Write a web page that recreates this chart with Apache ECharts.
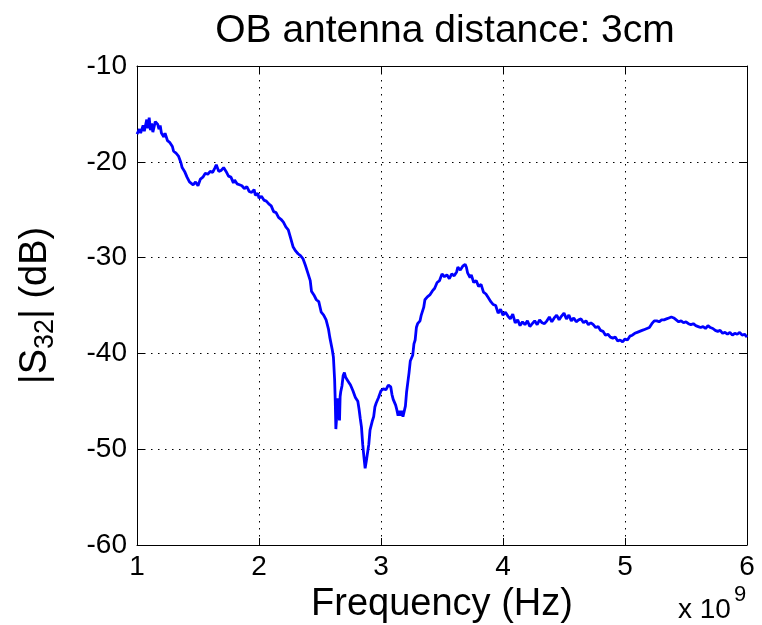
<!DOCTYPE html>
<html>
<head>
<meta charset="utf-8">
<script src="https://cdn.jsdelivr.net/npm/echarts@6/dist/echarts.min.js"></script>
<style>html,body{margin:0;padding:0;background:#fff;}#c{width:762px;height:625px;}</style>
</head>
<body>
<div id="c"></div>
<script>
const titleText = 'OB antenna distance: 3cm';
const xTicks = [1, 2, 3, 4, 5, 6];
const yTicks = [-60, -50, -40, -30, -20, -10];
const freqGHz = [
1.00,1.02,1.03,1.05,1.06,1.08,1.09,1.10,1.11,1.12,1.13,1.15,1.17,1.18,1.19,1.20,1.22,1.23,1.25,1.27,1.29,1.30,1.32,1.34,1.36,1.37,1.39,1.41,1.43,1.44,1.46,1.48,1.50,1.52,1.54,1.56,1.58,1.60,1.62,1.64,1.65,1.67,1.69,1.71,1.73,1.75,1.77,1.79,1.80,1.82,1.84,1.86,1.88,1.90,1.92,1.94,1.96,1.97,1.99,2.00,
2.02,2.04,2.06,2.08,2.10,2.12,2.14,2.16,2.18,2.20,2.22,2.24,2.26,2.28,2.30,2.32,2.34,2.36,2.38,2.40,2.42,2.43,2.45,2.47,2.49,2.51,2.53,2.55,2.57,2.58,2.60,2.61,2.62,2.625,2.63,2.64,2.645,2.65,2.66,2.665,2.67,2.68,2.69,2.70,2.71,2.72,2.73,2.75,2.77,2.79,2.81,2.82,2.83,2.84,2.85,2.86,2.87,2.88,2.89,2.90,2.91,2.92,2.93,2.94,2.95,2.96,2.98,
3.00,3.02,3.04,3.06,3.07,3.08,3.09,3.10,3.12,3.13,3.14,3.15,3.16,3.17,3.18,3.19,3.20,3.21,3.22,3.23,3.24,3.25,3.26,3.27,3.28,3.29,3.30,3.32,3.33,3.34,3.35,3.36,3.38,3.40,3.42,3.44,3.46,3.48,3.50,3.52,3.54,3.56,3.58,3.60,3.62,3.63,3.65,3.67,3.69,3.70,3.71,3.73,3.74,3.76,3.78,3.80,3.82,3.84,3.86,3.88,3.90,3.92,3.94,3.96,3.98,
4.00,4.02,4.04,4.06,4.08,4.10,4.12,4.14,4.16,4.18,4.20,4.22,4.24,4.26,4.28,4.30,4.32,4.34,4.36,4.38,4.40,4.42,4.44,4.46,4.48,4.50,4.52,4.54,4.56,4.58,4.60,4.62,4.64,4.66,4.68,4.70,4.72,4.74,4.76,4.78,4.80,4.82,4.84,4.86,4.88,4.90,4.92,4.94,4.96,4.98,
5.00,5.02,5.04,5.06,5.08,5.10,5.12,5.14,5.16,5.18,5.20,5.22,5.24,5.26,5.28,5.30,5.32,5.34,5.36,5.38,5.40,5.42,5.44,5.46,5.48,5.50,5.52,5.54,5.56,5.58,5.60,5.62,5.64,5.66,5.68,5.70,5.72,5.74,5.76,5.78,5.80,5.82,5.84,5.86,5.88,5.90,5.92,5.94,5.96,5.98,6.00
];
const s32dB = [
-17.1,-16.6,-17.0,-16.2,-16.8,-15.6,-16.5,-15.4,-16.7,-16.0,-16.9,-15.8,-16.1,-16.6,-16.2,-17.0,-17.4,-17.0,-17.8,-18.0,-18.4,-18.9,-19.1,-19.4,-20.1,-20.6,-21.0,-21.6,-22.1,-21.9,-22.4,-22.1,-22.5,-21.8,-21.6,-21.2,-21.3,-21.0,-21.1,-20.6,-20.3,-21.0,-20.9,-20.6,-21.0,-21.5,-21.6,-22.2,-21.9,-22.3,-22.4,-22.5,-22.8,-22.6,-23.1,-23.2,-22.9,-23.5,-23.3,-23.8,
-23.6,-24.0,-24.1,-24.4,-24.6,-25.2,-25.3,-25.8,-26.0,-26.3,-26.8,-27.1,-28.0,-28.9,-29.3,-29.6,-29.8,-30.1,-30.8,-31.6,-32.4,-33.5,-33.9,-34.4,-34.6,-35.7,-36.0,-36.5,-37.5,-38.3,-39.6,-40.4,-42.8,-45.0,-47.9,-46.0,-44.7,-45.5,-47.0,-44.5,-44.0,-43.4,-42.3,-42.0,-42.5,-42.4,-42.9,-43.3,-43.9,-44.6,-45.0,-45.8,-46.8,-47.7,-49.5,-50.8,-52.0,-51.2,-51.0,-49.5,-48.0,-47.8,-47.0,-46.6,-45.6,-45.2,-44.6,
-43.9,-43.7,-43.8,-43.3,-43.1,-43.5,-44.3,-44.8,-45.4,-45.9,-46.5,-46.0,-46.5,-46.0,-46.6,-46.4,-45.5,-44.0,-43.0,-42.0,-40.8,-40.6,-40.2,-39.0,-38.6,-37.3,-36.9,-36.6,-36.0,-35.8,-35.2,-34.4,-34.1,-33.9,-33.5,-33.2,-32.6,-32.4,-31.7,-32.0,-31.8,-32.2,-31.7,-31.9,-31.5,-31.0,-31.3,-30.9,-30.7,-31.0,-31.6,-32.1,-31.8,-32.6,-32.4,-33.0,-32.8,-33.6,-33.8,-34.2,-34.6,-34.9,-35.0,-35.8,-35.4,
-36.0,-35.7,-36.1,-36.4,-35.9,-36.8,-36.5,-37.1,-36.7,-37.0,-36.6,-37.2,-36.9,-36.6,-37.0,-36.5,-36.8,-36.9,-36.6,-36.2,-36.7,-36.3,-36.0,-36.5,-36.1,-35.8,-36.4,-36.0,-36.6,-36.3,-36.7,-36.5,-36.4,-36.8,-36.6,-37.0,-36.8,-37.0,-37.3,-37.2,-37.6,-37.7,-38.1,-38.0,-38.3,-38.4,-38.3,-38.7,-38.6,-38.8,
-38.5,-38.6,-38.2,-38.1,-37.9,-37.8,-37.7,-37.6,-37.5,-37.4,-37.3,-36.9,-36.6,-36.6,-36.7,-36.5,-36.5,-36.4,-36.3,-36.2,-36.3,-36.5,-36.7,-36.6,-36.8,-36.7,-36.9,-37.0,-36.9,-37.1,-37.2,-37.3,-37.2,-37.4,-37.1,-37.3,-37.4,-37.6,-37.7,-37.6,-37.9,-37.8,-38.0,-37.8,-38.1,-37.9,-38.0,-37.8,-38.1,-38.0,-38.3
];

const FONT = 'Liberation Sans, Arial, sans-serif';
const chart = echarts.init(document.getElementById('c'), null, {renderer: 'canvas'});
const data = freqGHz.map((f, i) => [f, s32dB[i]]);
const dotted = {color: '#000', width: 1, type: [1.5, 5.5]};
const axLine = {show: true, lineStyle: {color: '#000', width: 1}};
const tick = {show: true, inside: true, length: 7, lineStyle: {color: '#000', width: 1}};

chart.setOption({
  animation: false,
  backgroundColor: '#fff',
  title: {
    text: titleText, left: 440, top: 7, textAlign: 'center',
    textStyle: {fontFamily: FONT, fontSize: 39, fontWeight: 'normal', color: '#000'}
  },
  grid: {left: 137, right: 15, top: 66, bottom: 80, containLabel: false, outerBoundsMode: 'none'},
  xAxis: [{
    type: 'value', min: xTicks[0], max: xTicks[xTicks.length - 1], interval: 1,
    position: 'bottom',
    axisLine: axLine, axisTick: tick,
    axisLabel: {color: '#000', fontFamily: FONT, fontSize: 28, margin: 8},
    splitLine: {show: true, lineStyle: dotted},
    name: 'Frequency (Hz)', nameLocation: 'middle', nameGap: 38,
    nameTextStyle: {color: '#000', fontFamily: FONT, fontSize: 38}
  }, {
    type: 'value', min: xTicks[0], max: xTicks[xTicks.length - 1], interval: 1,
    position: 'top', axisLine: axLine, axisTick: tick,
    axisLabel: {show: false}, splitLine: {show: false}
  }],
  yAxis: [{
    type: 'value', min: yTicks[0], max: yTicks[yTicks.length - 1], interval: 10,
    position: 'left',
    axisLine: axLine, axisTick: tick,
    axisLabel: {color: '#000', fontFamily: FONT, fontSize: 28, margin: 10},
    splitLine: {show: true, lineStyle: dotted},
    name: '|S{sub|32}| (dB)', nameLocation: 'middle', nameGap: 78,
    nameTextStyle: {
      color: '#000', fontFamily: FONT, fontSize: 38,
      rich: {sub: {fontFamily: FONT, fontSize: 27, color: '#000', padding: [20, 0, 0, 0]}}
    }
  }, {
    type: 'value', min: yTicks[0], max: yTicks[yTicks.length - 1], interval: 10,
    position: 'right', axisLine: axLine, axisTick: tick,
    axisLabel: {show: false}, splitLine: {show: false}
  }],
  graphic: [
    {type: 'text', left: 678, top: 596, style: {text: 'x 10', fontFamily: FONT, fontSize: 28, fill: '#000'}},
    {type: 'text', left: 734, top: 584, style: {text: '9', fontFamily: FONT, fontSize: 22, fill: '#000'}}
  ],
  series: [{
    type: 'line', data: data, xAxisIndex: 0, yAxisIndex: 0,
    showSymbol: false, symbol: 'none',
    lineStyle: {color: '#0000ff', width: 2.8}
  }]
});
</script>
</body>
</html>
